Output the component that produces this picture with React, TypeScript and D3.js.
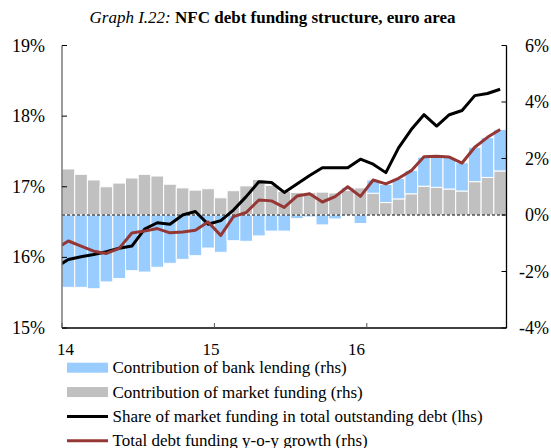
import * as d3 from 'd3'

// monthly observations, Jan 2014 .. Nov 2016 (bars); lines also carry Dec 2013
const months = d3.timeMonths(new Date(2013, 11, 1), new Date(2016, 11, 1)).map(d3.timeFormat('%Y-%m'))
const yearTicks = ['14', '15', '16']

const bankLending = [
  -2.56, -2.56, -2.61, -2.37, -2.25, -1.97, -2.02, -1.85, -1.71, -1.57, -1.44, -1.17,
  -1.32, -0.91, -0.93, -0.74, -0.57, -0.57, -0.13, -0.07, -0.35, -0.14, 0.1, -0.3,
  0.47, 0.64, 0.72, 0.83, 1.03, 1.08, 1.12, 1.0, 1.22, 1.41, 1.47,
]
const marketFunding = [
  1.63, 1.44, 1.24, 1.0, 1.13, 1.31, 1.44, 1.38, 1.09, 0.96, 0.88, 0.93,
  0.61, 0.86, 1.03, 1.26, 1.05, 0.84, 0.8, 0.8, 0.81, 0.78, 0.88, 0.96,
  0.77, 0.44, 0.57, 0.75, 1.02, 0.98, 0.92, 0.85, 1.18, 1.33, 1.56,
]
// lhs, %, starting Dec 2013
const marketShare = [
  15.86, 15.97, 16.01, 16.04, 16.08, 16.13, 16.16, 16.4, 16.49, 16.47, 16.6, 16.65, 16.47,
  16.52, 16.67, 16.86, 17.07, 17.06, 16.92, 17.04, 17.16, 17.27, 17.27, 17.27, 17.39,
  17.32, 17.2, 17.55, 17.81, 18.02, 17.86, 18.02, 18.08, 18.29, 18.32, 18.38,
]
// rhs, %, starting Dec 2013
const totalGrowth = [
  -1.2, -0.92, -1.1, -1.28, -1.36, -1.18, -0.64, -0.57, -0.48, -0.63, -0.6, -0.54, -0.25,
  -0.72, -0.06, 0.09, 0.53, 0.5, 0.27, 0.67, 0.75, 0.46, 0.65, 1.0, 0.66,
  1.24, 1.1, 1.3, 1.57, 2.06, 2.08, 2.05, 1.84, 2.4, 2.75, 3.03,
]
const leftTicks = [15, 16, 17, 18, 19]
const rightTicks = [-4, -2, 0, 2, 4, 6]

const W = 551
const H = 448
const x0 = 62
const x1 = 506.5
const yTop = 45.5
const yBot = 328
const font = '"Liberation Serif", "Times New Roman", serif'

const BLUE = '#99CCFF'
const GREY = '#C0C0C0'
const RED = '#953735'

export default function App() {
  const barMonths = months.slice(1)
  const x = d3.scaleLinear().domain([0, barMonths.length]).range([x0, x1])
  const yL = d3.scaleLinear().domain([15, 19]).range([yBot, yTop])
  const yR = d3.scaleLinear().domain([-4, 6]).range([yBot, yTop])
  // year labels sit a little left of their ticks, as in the original
  const xLabel = d3.scaleLinear().domain([0, 2]).range([65.5, 356.5])

  const rows = barMonths.map((m, i) => ({ month: m, market: marketFunding[i], bank: bankLending[i] }))
  const stack = d3.stack<any>().keys(['market', 'bank']).offset(d3.stackOffsetDiverging)
  const series = stack(rows)
  const colors: Record<string, string> = { market: GREY, bank: BLUE }

  // line points: index -1 = Dec 2013 (clipped at the axis)
  const lineGen = (y: (v: number) => number) =>
    d3.line<number>().x((_, i) => x(i - 1 + 0.5)).y(v => y(v))

  const legend = [
    { label: 'Contribution of bank lending (rhs)', kind: 'bar', color: BLUE },
    { label: 'Contribution of market funding (rhs)', kind: 'bar', color: GREY },
    { label: 'Share of market funding in total outstanding debt (lhs)', kind: 'line', color: '#000' },
    { label: 'Total debt funding y-o-y growth (rhs)', kind: 'line', color: RED },
  ]

  return (
    <svg width={W} height={H} style={{ position: 'absolute', left: 0, top: 0, background: '#fff' }} fontFamily={font}>
      <defs>
        <clipPath id="plot">
          <rect x={x0} y={0} width={x1 - x0} height={H} />
        </clipPath>
      </defs>

      <text x={272.5} y={23} textAnchor="middle" fontSize={17}>
        <tspan fontStyle="italic">Graph I.22: </tspan>
        <tspan fontWeight="bold">NFC debt funding structure, euro area</tspan>
      </text>

      {/* bars */}
      {series.map(s => (
        <g key={s.key} fill={colors[s.key]}>
          {s.map((d, i) => (
            <rect
              key={i}
              x={x(i)}
              width={x(i + 1) - x(i)}
              y={yR(Math.max(d[0], d[1]))}
              height={Math.abs(yR(d[0]) - yR(d[1]))}
              stroke="#fff"
              strokeWidth={1}
            />
          ))}
        </g>
      ))}

      {/* zero line */}
      <line x1={x0} x2={x1} y1={yR(0)} y2={yR(0)} stroke="#000" strokeWidth={1.2} strokeDasharray="3,2" />

      <g clipPath="url(#plot)" fill="none" strokeLinejoin="round">
        <path d={lineGen(yL)(marketShare) ?? ''} stroke="#000" strokeWidth={3} />
        <path d={lineGen(yR)(totalGrowth) ?? ''} stroke={RED} strokeWidth={3} />
      </g>

      {/* left axis */}
      <line x1={x0} x2={x0} y1={yTop} y2={yBot} stroke="#666" strokeWidth={1.3} />
      {leftTicks.map(t => (
        <g key={t}>
          <line x1={x0} x2={x0 + 5} y1={yL(t)} y2={yL(t)} stroke="#000" />
          <text x={45} y={yL(t) + 6} textAnchor="end" fontSize={18}>{t}%</text>
        </g>
      ))}

      {/* right axis */}
      <line x1={x1} x2={x1} y1={yTop} y2={yBot} stroke="#000" strokeWidth={1.3} />
      {rightTicks.map(t => (
        <g key={t}>
          <line x1={x1 - 5} x2={x1} y1={yR(t)} y2={yR(t)} stroke="#000" />
          <text x={549} y={yR(t) + 6} textAnchor="end" fontSize={18}>{t}%</text>
        </g>
      ))}

      {/* bottom axis */}
      <line x1={x0} x2={x1} y1={yBot} y2={yBot} stroke="#000" strokeWidth={1.3} />
      {yearTicks.map((t, i) => (
        <g key={t}>
          <line x1={x(i * 12)} x2={x(i * 12)} y1={yBot - 5} y2={yBot} stroke="#555" />
          <text x={xLabel(i)} y={355} textAnchor="middle" fontSize={17}>{t}</text>
        </g>
      ))}

      {/* legend */}
      {legend.map((l, i) => {
        const cy = 367.7 + i * 24.35
        return (
          <g key={l.label}>
            {l.kind === 'bar' ? (
              <rect x={67} y={cy - 5} width={41} height={10} fill={l.color} />
            ) : (
              <line x1={67} x2={108} y1={cy} y2={cy} stroke={l.color} strokeWidth={3} />
            )}
            <text x={112.5} y={cy + 5.5} fontSize={17}>{l.label}</text>
          </g>
        )
      })}
    </svg>
  )
}
